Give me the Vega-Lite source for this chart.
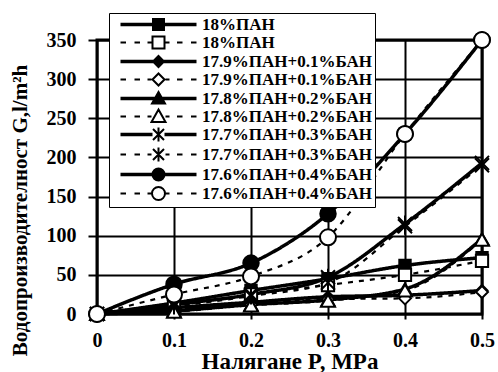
{
  "$schema": "https://vega.github.io/schema/vega-lite/v6.json",
  "width": 385,
  "height": 274,
  "autosize": {"type": "none"},
  "padding": {"left": 97, "top": 40, "right": 16, "bottom": 58},
  "background": "white",
  "config": {
    "view": {"stroke": "black", "strokeWidth": 3},
    "font": "Liberation Serif",
    "axis": {
      "labelFont": "Liberation Serif",
      "labelFontWeight": "bold",
      "labelColor": "black",
      "labelFlush": false,
      "titleFont": "Liberation Serif, DejaVu Serif",
      "titleFontWeight": "bold",
      "titleColor": "black",
      "gridColor": "black",
      "gridWidth": 2,
      "gridOpacity": 1,
      "tickColor": "black",
      "tickWidth": 2,
      "domain": false
    }
  },
  "data": {
    "values": [
      {"s": "a|18%ПАН", "p": 0, "g": 0}, {"s": "a|18%ПАН", "p": 0.1, "g": 14}, {"s": "a|18%ПАН", "p": 0.2, "g": 30}, {"s": "a|18%ПАН", "p": 0.3, "g": 45}, {"s": "a|18%ПАН", "p": 0.4, "g": 62}, {"s": "a|18%ПАН", "p": 0.5, "g": 72},
      {"s": "b|18%ПАН", "p": 0, "g": 0}, {"s": "b|18%ПАН", "p": 0.1, "g": 10}, {"s": "b|18%ПАН", "p": 0.2, "g": 25}, {"s": "b|18%ПАН", "p": 0.3, "g": 37}, {"s": "b|18%ПАН", "p": 0.4, "g": 50}, {"s": "b|18%ПАН", "p": 0.5, "g": 68},
      {"s": "c|17.9%ПАН+0.1%БАН", "p": 0, "g": 0}, {"s": "c|17.9%ПАН+0.1%БАН", "p": 0.1, "g": 8}, {"s": "c|17.9%ПАН+0.1%БАН", "p": 0.2, "g": 15}, {"s": "c|17.9%ПАН+0.1%БАН", "p": 0.3, "g": 22}, {"s": "c|17.9%ПАН+0.1%БАН", "p": 0.4, "g": 24}, {"s": "c|17.9%ПАН+0.1%БАН", "p": 0.5, "g": 30},
      {"s": "d|17.9%ПАН+0.1%БАН", "p": 0, "g": 0}, {"s": "d|17.9%ПАН+0.1%БАН", "p": 0.1, "g": 6}, {"s": "d|17.9%ПАН+0.1%БАН", "p": 0.2, "g": 12}, {"s": "d|17.9%ПАН+0.1%БАН", "p": 0.3, "g": 19}, {"s": "d|17.9%ПАН+0.1%БАН", "p": 0.4, "g": 20}, {"s": "d|17.9%ПАН+0.1%БАН", "p": 0.5, "g": 28},
      {"s": "e|17.8%ПАН+0.2%БАН", "p": 0, "g": 0}, {"s": "e|17.8%ПАН+0.2%БАН", "p": 0.1, "g": 4}, {"s": "e|17.8%ПАН+0.2%БАН", "p": 0.2, "g": 12}, {"s": "e|17.8%ПАН+0.2%БАН", "p": 0.3, "g": 18}, {"s": "e|17.8%ПАН+0.2%БАН", "p": 0.4, "g": 32}, {"s": "e|17.8%ПАН+0.2%БАН", "p": 0.5, "g": 96},
      {"s": "f|17.8%ПАН+0.2%БАН", "p": 0, "g": 0}, {"s": "f|17.8%ПАН+0.2%БАН", "p": 0.1, "g": 3}, {"s": "f|17.8%ПАН+0.2%БАН", "p": 0.2, "g": 11}, {"s": "f|17.8%ПАН+0.2%БАН", "p": 0.3, "g": 17}, {"s": "f|17.8%ПАН+0.2%БАН", "p": 0.4, "g": 30}, {"s": "f|17.8%ПАН+0.2%БАН", "p": 0.5, "g": 95},
      {"s": "g|17.7%ПАН+0.3%БАН", "p": 0, "g": 0}, {"s": "g|17.7%ПАН+0.3%БАН", "p": 0.1, "g": 12}, {"s": "g|17.7%ПАН+0.3%БАН", "p": 0.2, "g": 25}, {"s": "g|17.7%ПАН+0.3%БАН", "p": 0.3, "g": 47}, {"s": "g|17.7%ПАН+0.3%БАН", "p": 0.4, "g": 115}, {"s": "g|17.7%ПАН+0.3%БАН", "p": 0.5, "g": 193},
      {"s": "h|17.7%ПАН+0.3%БАН", "p": 0, "g": 0}, {"s": "h|17.7%ПАН+0.3%БАН", "p": 0.1, "g": 10}, {"s": "h|17.7%ПАН+0.3%БАН", "p": 0.2, "g": 23}, {"s": "h|17.7%ПАН+0.3%БАН", "p": 0.3, "g": 40}, {"s": "h|17.7%ПАН+0.3%БАН", "p": 0.4, "g": 112}, {"s": "h|17.7%ПАН+0.3%БАН", "p": 0.5, "g": 190},
      {"s": "i|17.6%ПАН+0.4%БАН", "p": 0, "g": 0}, {"s": "i|17.6%ПАН+0.4%БАН", "p": 0.1, "g": 38}, {"s": "i|17.6%ПАН+0.4%БАН", "p": 0.2, "g": 65}, {"s": "i|17.6%ПАН+0.4%БАН", "p": 0.3, "g": 128}, {"s": "i|17.6%ПАН+0.4%БАН", "p": 0.4, "g": 230}, {"s": "i|17.6%ПАН+0.4%БАН", "p": 0.5, "g": 350},
      {"s": "j|17.6%ПАН+0.4%БАН", "p": 0, "g": 0}, {"s": "j|17.6%ПАН+0.4%БАН", "p": 0.1, "g": 25}, {"s": "j|17.6%ПАН+0.4%БАН", "p": 0.2, "g": 48}, {"s": "j|17.6%ПАН+0.4%БАН", "p": 0.3, "g": 98}, {"s": "j|17.6%ПАН+0.4%БАН", "p": 0.4, "g": 230}, {"s": "j|17.6%ПАН+0.4%БАН", "p": 0.5, "g": 350}
    ]
  },
  "encoding": {
    "x": {
      "field": "p", "type": "quantitative",
      "scale": {"domain": [0, 0.5], "nice": false, "zero": false},
      "axis": {
        "values": [0, 0.1, 0.2, 0.3, 0.4, 0.5], "format": "~g",
        "labelFontSize": 20, "labelPadding": 11, "tickSize": 5,
        "title": "Налягане P, MPa", "titleFontSize": 23, "titlePadding": 0
      }
    },
    "y": {
      "field": "g", "type": "quantitative",
      "scale": {"domain": [0, 350], "nice": false},
      "axis": {
        "values": [0, 50, 100, 150, 200, 250, 300, 350], "format": "d",
        "labelFontSize": 20, "labelPadding": 12, "tickSize": 9,
        "title": "Водопроизводителност G,l/m²h", "titleFontSize": 21, "titlePadding": 16, "titleY": 170
      }
    }
  },
  "layer": [
    {
      "mark": {"type": "line", "interpolate": "monotone", "color": "black"},
      "encoding": {
        "detail": {"field": "s"},
        "opacity": {
          "field": "s", "type": "nominal",
          "scale": {
            "type": "ordinal",
            "domain": ["a|18%ПАН", "b|18%ПАН", "c|17.9%ПАН+0.1%БАН", "d|17.9%ПАН+0.1%БАН", "e|17.8%ПАН+0.2%БАН", "f|17.8%ПАН+0.2%БАН", "g|17.7%ПАН+0.3%БАН", "h|17.7%ПАН+0.3%БАН", "i|17.6%ПАН+0.4%БАН", "j|17.6%ПАН+0.4%БАН"],
            "range": [1, 1, 1, 1, 1, 1, 1, 1, 1, 1]
          },
          "legend": {
            "title": null,
            "orient": "none",
            "legendX": 12,
            "legendY": -27,
            "direction": "vertical",
            "fillColor": "white",
            "strokeColor": "black",
            "padding": 3,
            "rowPadding": -3.8,
            "symbolSize": 100,
            "symbolStrokeWidth": 2,
            "symbolStrokeColor": "black",
            "symbolOpacity": 1,
            "symbolFillColor": {"expr": "datum.index % 2 ? 'white' : 'black'"},
            "symbolType": {"expr": "['M0,-0.15H6.5M0,0.15H6.5M8.7,-0.15H15.2M8.7,0.15H15.2M6.5,-1.1H8.7V1.1H6.5Z', 'M0,0H1.1M2.8,0H3.9M5.4,0H6.2M9,0H9.8M11.3,0H12.4M14.1,0H15.2M6.4,-1.2H8.8V1.2H6.4Z', 'M0,-0.15H15.2M0,0.15H15.2M7.6,-1.1L8.7,0L7.6,1.1L6.5,0Z', 'M0,0H1.1M2.8,0H3.9M5.4,0H6.2M9,0H9.8M11.3,0H12.4M14.1,0H15.2M7.6,-1.2L8.8,0L7.6,1.2L6.4,0Z', 'M0,-0.15H15.2M0,0.15H15.2M7.6,-1.3L8.9,1H6.3Z', 'M0,0H1.1M2.8,0H3.9M5.4,0H6.2M9,0H9.8M11.3,0H12.4M14.1,0H15.2M7.6,-1.4L9,1.1H6.2Z', 'M0,-0.15H6.4M0,0.15H6.4M8.8,-0.15H15.2M8.8,0.15H15.2M6.5,-1.1L8.7,1.1M6.5,1.1L8.7,-1.1M7.6,-1.4V1.4', 'M0,0H1.1M2.8,0H3.9M5.4,0H6.2M9,0H9.8M11.3,0H12.4M14.1,0H15.2M6.5,-1.1L8.7,1.1M6.5,1.1L8.7,-1.1M7.6,-1.4V1.4', 'M0,-0.15H15.2M0,0.15H15.2M8.8,0A1.2,1.2,0,1,1,6.4,0A1.2,1.2,0,1,1,8.8,0Z', 'M0,0H1.1M2.8,0H3.9M5.4,0H6.2M9,0H9.8M11.3,0H12.4M14.1,0H15.2M8.9,0A1.3,1.3,0,1,1,6.3,0A1.3,1.3,0,1,1,8.9,0Z'][datum.index]"},
            "labelOffset": 73,
            "labelFont": "Liberation Serif, DejaVu Serif",
            "labelFontWeight": "bold",
            "labelFontSize": 17,
            "labelColor": "black",
            "labelLimit": 400,
            "labelExpr": "split(datum.label, '|')[1]"
          }
        },
        "strokeDash": {
          "field": "s", "type": "nominal", "legend": null,
          "scale": {
            "domain": ["j|17.6%ПАН+0.4%БАН", "i|17.6%ПАН+0.4%БАН", "h|17.7%ПАН+0.3%БАН", "g|17.7%ПАН+0.3%БАН", "f|17.8%ПАН+0.2%БАН", "e|17.8%ПАН+0.2%БАН", "d|17.9%ПАН+0.1%БАН", "c|17.9%ПАН+0.1%БАН", "b|18%ПАН", "a|18%ПАН"],
            "range": [[5, 6], [1, 0], [5, 6], [1, 0], [5, 6], [1, 0], [5, 6], [1, 0], [5, 6], [1, 0]]
          }
        },
        "strokeWidth": {
          "field": "s", "type": "nominal", "legend": null,
          "scale": {
            "type": "ordinal",
            "domain": ["j|17.6%ПАН+0.4%БАН", "i|17.6%ПАН+0.4%БАН", "h|17.7%ПАН+0.3%БАН", "g|17.7%ПАН+0.3%БАН", "f|17.8%ПАН+0.2%БАН", "e|17.8%ПАН+0.2%БАН", "d|17.9%ПАН+0.1%БАН", "c|17.9%ПАН+0.1%БАН", "b|18%ПАН", "a|18%ПАН"],
            "range": [2.2, 3.5, 2.2, 3.5, 2.2, 3.5, 2.2, 3.5, 2.2, 3.5]
          }
        }
      }
    },
    {
      "mark": {"type": "point", "filled": true, "stroke": "black", "strokeWidth": 2, "opacity": 1},
      "encoding": {
        "shape": {
          "field": "s", "type": "nominal", "legend": null,
          "scale": {
            "domain": ["j|17.6%ПАН+0.4%БАН", "i|17.6%ПАН+0.4%БАН", "h|17.7%ПАН+0.3%БАН", "g|17.7%ПАН+0.3%БАН", "f|17.8%ПАН+0.2%БАН", "e|17.8%ПАН+0.2%БАН", "d|17.9%ПАН+0.1%БАН", "c|17.9%ПАН+0.1%БАН", "b|18%ПАН", "a|18%ПАН"],
            "range": ["circle", "circle", "M-1,-1L1,1M-1,1L1,-1M0,-1.2V1.2", "M-1,-1L1,1M-1,1L1,-1M0,-1.2V1.2", "triangle-up", "triangle-up", "diamond", "diamond", "square", "square"]
          }
        },
        "fill": {
          "field": "s", "type": "nominal", "legend": null,
          "scale": {
            "domain": ["j|17.6%ПАН+0.4%БАН", "i|17.6%ПАН+0.4%БАН", "h|17.7%ПАН+0.3%БАН", "g|17.7%ПАН+0.3%БАН", "f|17.8%ПАН+0.2%БАН", "e|17.8%ПАН+0.2%БАН", "d|17.9%ПАН+0.1%БАН", "c|17.9%ПАН+0.1%БАН", "b|18%ПАН", "a|18%ПАН"],
            "range": ["white", "black", "white", "black", "white", "black", "white", "black", "white", "black"]
          }
        },
        "size": {
          "field": "s", "type": "nominal", "legend": null,
          "scale": {
            "type": "ordinal",
            "domain": ["j|17.6%ПАН+0.4%БАН", "i|17.6%ПАН+0.4%БАН", "h|17.7%ПАН+0.3%БАН", "g|17.7%ПАН+0.3%БАН", "f|17.8%ПАН+0.2%БАН", "e|17.8%ПАН+0.2%БАН", "d|17.9%ПАН+0.1%БАН", "c|17.9%ПАН+0.1%БАН", "b|18%ПАН", "a|18%ПАН"],
            "range": [256, 240, 196, 196, 196, 170, 144, 120, 150, 130]
          }
        }
      }
    }
  ]
}
